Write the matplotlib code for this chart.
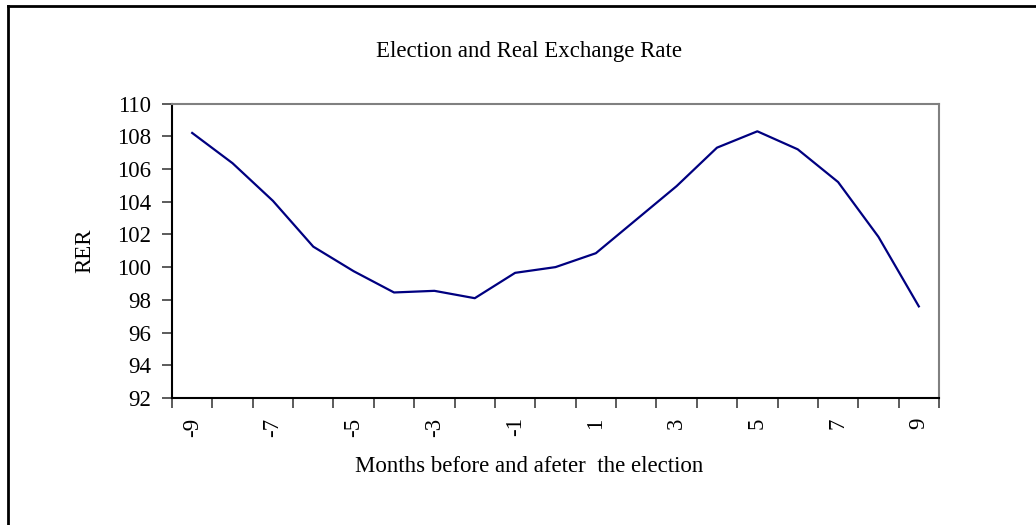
import matplotlib
matplotlib.use("Agg")
import matplotlib.pyplot as plt
from matplotlib.lines import Line2D
import numpy as np

# months relative to the election and the real exchange rate
months = [-9, -8, -7, -6, -5, -4, -3, -2, -1, 0, 1, 2, 3, 4, 5, 6, 7, 8, 9]
rer = [108.2, 106.35, 104.05, 101.25, 99.75, 98.45, 98.55, 98.1, 99.65, 100.0,
       100.85, 102.9, 104.95, 107.3, 108.3, 107.2, 105.2, 101.85, 97.6]
y_ticks = [92, 94, 96, 98, 100, 102, 104, 106, 108, 110]

plt.rcParams['font.family'] = ['Liberation Serif', 'DejaVu Serif']

W, H = 1036, 525
fs = 16.5
fig = plt.figure(figsize=(W / 100, H / 100), dpi=100)
ax = fig.add_axes([172 / W, 1 - 398 / H, (939 - 172) / W, (398 - 103.5) / H])

# category style x axis: points at centers, ticks at boundaries
pos = np.arange(len(months))
ax.plot(pos, rer, color='#000080', linewidth=1.6)
ax.set_xlim(-0.5, len(months) - 0.5)
ax.set_ylim(92, 110)
ax.set_yticks(y_ticks)
ax.set_yticklabels([str(v) for v in y_ticks], fontsize=fs)

ax.set_xticks(np.arange(len(months) + 1) - 0.5)
ax.set_xticklabels([])
ax.set_xticks(pos, minor=True)
ax.set_xticklabels([str(m) if m % 2 else '' for m in months], minor=True,
                   rotation=90, fontsize=fs)
ax.tick_params(axis='x', which='major', direction='out', length=7, width=1.2, color='#404040')
ax.tick_params(axis='x', which='minor', length=0, pad=14)
ax.tick_params(axis='y', direction='out', length=7, width=1.2, color='#404040', pad=8)

for side in ['left', 'bottom']:
    ax.spines[side].set_color('black')
    ax.spines[side].set_linewidth(1.5)
for side in ['top', 'right']:
    ax.spines[side].set_color('#808080')
    ax.spines[side].set_linewidth(1.5)

ax.set_ylabel('RER', fontsize=fs, labelpad=16)

fig.text(529 / W, 1 - 51 / H, 'Election and Real Exchange Rate', fontsize=fs,
         ha='center', va='center')
fig.text(529 / W, 1 - 466 / H, 'Months before and afeter  the election', fontsize=fs,
         ha='center', va='center')

# outer chart frame (only top and left edges are visible)
fig.add_artist(Line2D([8 / W, 1.0], [1 - 6 / H, 1 - 6 / H], color='black', linewidth=2,
                      transform=fig.transFigure))
fig.add_artist(Line2D([8 / W, 8 / W], [0.0, 1 - 6 / H], color='black', linewidth=2,
                      transform=fig.transFigure))

fig.savefig('out.png', dpi=100)
